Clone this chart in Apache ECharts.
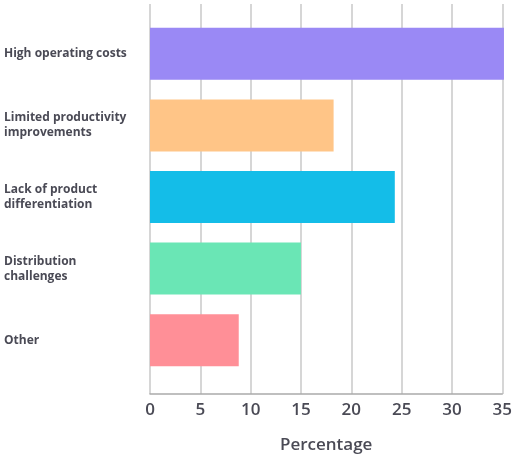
<!DOCTYPE html>
<html><head><meta charset="utf-8">
<script src="https://cdn.jsdelivr.net/npm/echarts@6/dist/echarts.min.js"></script>
<style>html,body{margin:0;padding:0;background:#fff}#c{width:515px;height:459px}</style>
</head><body><div id="c"></div>
<script>
const categories = ["High operating costs", "Limited productivity\nimprovements", "Lack of product\ndifferentiation", "Distribution\nchallenges", "Other"];
const values = [34.7, 18.0, 24.0, 14.8, 8.7];
const colors = ["#9a89f5", "#ffc587", "#14bde8", "#6ae6b5", "#ff8f97"];
const xTicks = [0, 5, 10, 15, 20, 25, 30, 35];

const chart = echarts.init(document.getElementById('c'));
const font = "Open Sans";
chart.setOption({
  animation: false,
  grid: [
    {left: 150, right: 8, top: 4, bottom: 55},
    {left: 150, right: 8, top: 18, bottom: 83}
  ],
  xAxis: [
    {gridIndex: 0, type: 'value', min: xTicks[0], max: xTicks[xTicks.length-1], interval: 5,
     axisLine: {show: true, lineStyle: {color: '#aaaaaa', width: 1.5}},
     axisTick: {show: false},
     splitLine: {show: true, lineStyle: {color: '#c8c8c8', width: 1.5}},
     axisLabel: {color: '#4a4a55', fontSize: 17, fontFamily: font, fontWeight: 600, margin: 8},
     name: 'Percentage', nameLocation: 'middle', nameGap: 43,
     nameTextStyle: {color: '#4a4a55', fontSize: 17, fontFamily: font, fontWeight: 600}},
    {gridIndex: 1, type: 'value', min: xTicks[0], max: xTicks[xTicks.length-1], show: false}
  ],
  yAxis: [
    {gridIndex: 0, type: 'category', data: categories, show: false},
    {gridIndex: 1, type: 'category', data: categories, inverse: true,
     axisLine: {show: false}, axisTick: {show: false},
     axisLabel: {align: 'left', margin: 146, color: '#4a4a55', fontSize: 12, fontWeight: 'bold', fontFamily: font, lineHeight: 15}}
  ],
  series: [{
    type: 'bar', xAxisIndex: 1, yAxisIndex: 1,
    data: values.map((v, i) => ({value: v, itemStyle: {color: colors[i]}})),
    barWidth: 52
  }]
});
</script></body></html>
